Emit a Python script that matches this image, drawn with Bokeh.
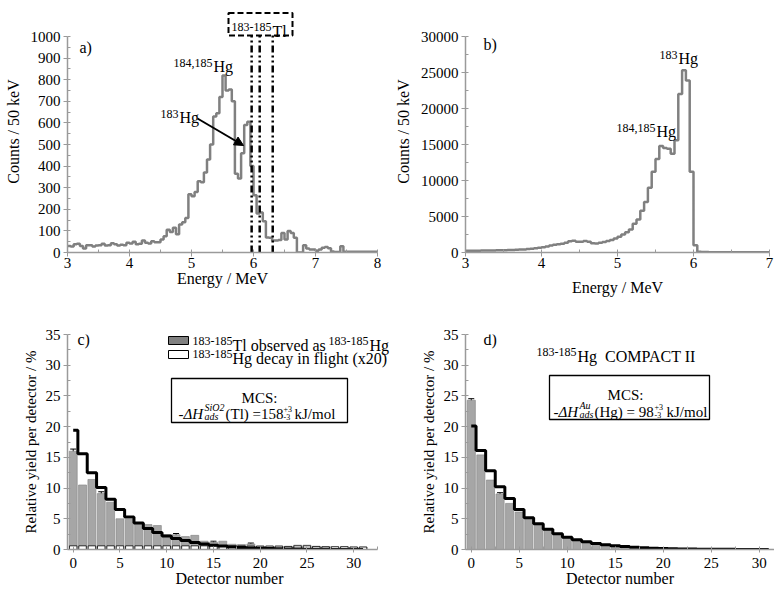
import numpy as np
from bokeh.plotting import figure
from bokeh.layouts import column, row
from bokeh.models import (Range1d, Label, Arrow, NormalHead, PolyAnnotation,
                          SingleIntervalTicker, ColumnDataSource, Whisker, TeeHead)
from bokeh.embed import file_html
from bokeh.resources import INLINE

FONT = "Liberation Serif"

# ---------------- data ----------------
# panel a: alpha spectrum (50 keV bins starting at 3.00 MeV)
energy_a_start = 3.0
bin_width = 0.05
counts_a = [30, 28, 38, 40, 30, 18, 33, 33, 28, 32,
            34, 40, 32, 34, 43, 38, 32, 36, 34, 45,
            42, 50, 38, 40, 55, 45, 42, 52, 48, 48,
            60, 75, 105, 95, 115, 85, 130, 140, 160, 270,
            260, 280, 330, 325, 370, 430, 500, 630, 645, 720,
            820, 750, 755, 700, 365, 343, 460, 590, 605, 400,
            265, 180, 185, 145, 70, 68, 56, 55, 58, 90,
            60, 100, 90, 68, 0, 0, 34, 18, 14, 14,
            8, 14, 22, 26, 20, 5, 2, 2, 29, 3,
            3, 3, 3, 3, 3, 3, 3, 3, 3, 3]
tl_lines = [5.97, 6.10, 6.31]

# panel b: alpha spectrum (50 keV bins starting at 3.00 MeV)
energy_b_start = 3.0
counts_b = [250, 250, 255, 260, 265, 270, 280, 290, 300, 305,
            320, 335, 350, 370, 400, 430, 470, 520, 580, 650,
            730, 850, 980, 1080, 1150, 1200, 1350, 1550, 1620, 1480,
            1500, 1600, 1500, 1300, 1250, 1350, 1450, 1600, 1750, 1950,
            2200, 2500, 2800, 3200, 4000, 4600, 5800, 7000, 9000, 11200,
            13000, 14800, 14500, 14400, 13700, 15600, 22000, 25300, 23900, 11200,
            1000, 100, 60, 55, 50, 50, 45, 50, 50, 45,
            50, 50, 45, 50, 50, 45, 50, 50, 45, 50]

# panels c, d: detector distributions
detectors = list(range(32))
c_observed = [16.0, 10.5, 11.4, 9.1, 7.7, 5.0, 4.9, 4.3, 4.05, 3.9,
              2.4, 2.4, 2.1, 2.3, 1.35, 1.2, 1.35, 0.85, 0.8, 0.9,
              0.55, 0.55, 0.55, 0.5, 0.7, 0.7, 0.5, 0.45, 0.4, 0.45, 0.4, 0.4]
c_flight = [0.6, 0.6, 0.6, 0.6, 0.6, 0.6, 0.6, 0.6, 0.6, 0.6,
            0.6, 0.6, 0.6, 0.6, 0.6, 0.6, 0.6, 0.6, 0.6, 0.55,
            0.55, 0.55, 0.55, 0.5, 0.6, 0.6, 0.5, 0.45, 0.45, 0.45, 0.4, 0.4]
c_mcs = [19.4, 15.6, 12.5, 10.1, 8.2, 6.5, 5.3, 4.3, 3.4, 2.75,
         2.2, 1.8, 1.45, 1.15, 0.9, 0.7, 0.55, 0.42, 0.32, 0.25,
         0.19, 0.15, 0.11, 0.09, 0.07, 0.05, 0.04, 0.03, 0.02, 0.02, 0.01, 0.01]
c_err_det = [0, 3, 11, 15, 19]
c_err = [0.35, 0.3, 0.2, 0.15, 0.15]

d_observed = [24.3, 15.4, 11.3, 9.05, 7.5, 6.1, 4.9, 3.95, 3.15, 2.45,
              1.9, 1.45, 1.1, 0.85, 0.65, 0.5, 0.38, 0.28, 0.2, 0.15,
              0.11, 0.08, 0.06, 0.05, 0.04, 0.03, 0.02, 0.02, 0.01, 0.01, 0.01, 0.01]
d_mcs = [20.1, 16.1, 12.8, 10.2, 8.3, 6.5, 5.15, 4.2, 3.3, 2.55,
         2.0, 1.6, 1.25, 0.98, 0.78, 0.6, 0.47, 0.37, 0.28, 0.22,
         0.17, 0.13, 0.1, 0.08, 0.06, 0.05, 0.04, 0.03, 0.02, 0.02, 0.01, 0.01]
d_err_det = [0, 3]
d_err = [0.25, 0.2]

# ---------------- geometry (page pixels) ----------------
# each figure: canvas origin (ox, oy), canvas size (w, h), frame box L..R, T..B
GA = dict(ox=0, oy=0, w=390, h=300, L=67, R=377, T=10, B=252,
          x0=3.0, x1=8.0, y0=0, y1=1000 * 242 / 216)
GB = dict(ox=390, oy=0, w=384, h=300, L=465, R=769, T=10, B=252,
          x0=3.0, x1=7.0, y0=0, y1=30000 * 242 / 216)
# panel c frame is widened to the right (axis drawn only to 32.55) so the legend fits
GC = dict(ox=0, oy=300, w=392, h=291, L=67, R=391, T=334, B=549,
          x0=-0.61, x1=-0.61 + 324 / 9.35, y0=0, y1=35)
GD = dict(ox=392, oy=300, w=382, h=291, L=465, R=774, T=334, B=549,
          x0=-0.6, x1=31.6, y0=0, y1=35)


def gx(g, px):
    return g["x0"] + (px - g["L"]) / (g["R"] - g["L"]) * (g["x1"] - g["x0"])


def gy(g, py):
    return g["y0"] + (g["B"] - py) / (g["B"] - g["T"]) * (g["y1"] - g["y0"])


def make_fig(g, xint, yint, xlabel, ylabel, ylab_standoff, xlab_standoff,
             xtick_out=4, xlabel_standoff=1, ylab_size="16px"):
    p = figure(width=g["w"], height=g["h"],
               x_range=Range1d(g["x0"], g["x1"]), y_range=Range1d(g["y0"], g["y1"]),
               output_backend="svg", toolbar_location=None,
               min_border_left=g["L"] - g["ox"], min_border_right=g["ox"] + g["w"] - g["R"],
               min_border_top=g["T"] - g["oy"], min_border_bottom=g["oy"] + g["h"] - g["B"])
    p.xgrid.visible = False
    p.ygrid.visible = False
    p.outline_line_color = None
    p.background_fill_color = "white"
    p.xaxis.ticker = SingleIntervalTicker(interval=xint, num_minor_ticks=2)
    p.yaxis.ticker = SingleIntervalTicker(interval=yint, num_minor_ticks=2)
    for ax in (p.xaxis[0], p.yaxis[0]):
        ax.axis_line_color = "#9a9a9a"
        ax.axis_line_width = 1.5
        ax.major_tick_line_color = "#9a9a9a"
        ax.minor_tick_line_color = "#9a9a9a"
        ax.major_tick_in = 0
        ax.minor_tick_in = 3
        ax.minor_tick_out = 0
        ax.major_label_text_font = FONT
        ax.major_label_text_font_size = "15px"
        ax.major_label_text_color = "black"
        ax.axis_label_text_font = FONT
        ax.axis_label_text_font_style = "normal"
        ax.axis_label_text_color = "black"
    p.yaxis[0].major_tick_out = 4
    p.xaxis[0].major_tick_out = xtick_out
    p.xaxis[0].major_label_standoff = xlabel_standoff
    p.yaxis[0].major_label_standoff = 3
    p.xaxis[0].axis_label = xlabel
    p.yaxis[0].axis_label = ylabel
    p.xaxis[0].axis_label_text_font_size = "16px"
    p.yaxis[0].axis_label_text_font_size = ylab_size
    p.yaxis[0].axis_label_standoff = ylab_standoff
    p.xaxis[0].axis_label_standoff = xlab_standoff
    return p


def txt(p, g, px, py, text, size=16, align="left", baseline="alphabetic", style="normal"):
    p.add_layout(Label(x=gx(g, px), y=gy(g, py), text=text, text_font=FONT,
                       text_font_size=f"{size}px", text_align=align,
                       text_baseline=baseline, text_font_style=style, text_color="black"))


def rect_ann(p, g, l, r, t, b, fill, line, width=1.0, dash="solid"):
    xs = [gx(g, l), gx(g, r), gx(g, r), gx(g, l)]
    ys = [gy(g, t), gy(g, t), gy(g, b), gy(g, b)]
    p.add_layout(PolyAnnotation(xs=xs, ys=ys, fill_color=fill if fill else "white",
                                fill_alpha=1.0 if fill else 0.0,
                                line_color=line, line_alpha=1.0, line_width=width, line_dash=dash))


# ---------------- panel a ----------------
pa = make_fig(GA, 1, 100, "Energy / MeV", "Counts / 50 keV", 6, -1)
pa.yaxis[0].bounds = (0, 1000)
edges_a = energy_a_start + bin_width * np.arange(len(counts_a) + 1)
pa.step(edges_a, list(counts_a) + [counts_a[-1]], mode="after", line_color="#808080", line_width=2.5)
box_bottom = gy(GA, 35)
tl_src = ColumnDataSource(dict(x=tl_lines, y0=[0] * len(tl_lines), y1=[box_bottom] * len(tl_lines)))
pa.segment(x0="x", y0="y0", x1="x", y1="y1", source=tl_src, line_color="black",
           line_width=2.5, line_dash="7 3 2 3 2 3")
rect_ann(pa, GA, 228, 292, 12.5, 35, None, "black", 2, "6 3")
txt(pa, GA, 271, 26, "183-185", 12, align="right")
txt(pa, GA, 272, 31, "Tl", 16)
txt(pa, GA, 79, 47, "a)", 16, baseline="middle")
txt(pa, GA, 212, 62, "184,185", 12, align="right")
txt(pa, GA, 213, 66, "Hg", 16)
txt(pa, GA, 178, 113, "183", 12, align="right")
txt(pa, GA, 179, 117, "Hg", 16)
pa.add_layout(Arrow(end=NormalHead(size=9, fill_color="black", line_color="black"),
                    x_start=gx(GA, 197), y_start=gy(GA, 118), x_end=gx(GA, 243), y_end=gy(GA, 145),
                    line_color="black", line_width=2))

# ---------------- panel b ----------------
pb = make_fig(GB, 1, 5000, "Energy / MeV", "Counts / 50 keV", 6, 8)
pb.yaxis[0].bounds = (0, 30000)
edges_b = energy_b_start + bin_width * np.arange(len(counts_b) + 1)
pb.step(edges_b, list(counts_b) + [counts_b[-1]], mode="after", line_color="#808080", line_width=2.5)
txt(pb, GB, 483, 44, "b)", 16, baseline="middle")
txt(pb, GB, 677, 54, "183", 12, align="right")
txt(pb, GB, 678, 58, "Hg", 16)
txt(pb, GB, 655, 127, "184,185", 12, align="right")
txt(pb, GB, 656, 131, "Hg", 16)

# ---------------- panel c ----------------
pc = make_fig(GC, 5, 5, "Detector number", "Relative yield per detector / %", 4, -1,
              xtick_out=3, xlabel_standoff=5, ylab_size="15px")
pc.xaxis[0].bounds = (GC["x0"], 32.55)
src_c = ColumnDataSource(dict(det=detectors, obs=c_observed, fl=c_flight))
pc.vbar(x="det", top="obs", width=0.85, source=src_c, fill_color="#a6a6a6",
        line_color="#8a8a8a", line_width=0.7)
pc.vbar(x="det", top="fl", width=0.8, source=src_c, fill_color="white",
        line_color="black", line_width=0.8)
pc.step(detectors, c_mcs, mode="center", line_color="black", line_width=3)
err_c = ColumnDataSource(dict(x=c_err_det,
                              upper=[c_observed[i] + e for i, e in zip(c_err_det, c_err)],
                              lower=[c_observed[i] - e for i, e in zip(c_err_det, c_err)]))
pc.add_layout(Whisker(source=err_c, base="x", upper="upper", lower="lower", line_color="black",
                      upper_head=TeeHead(size=6, line_color="black"),
                      lower_head=TeeHead(size=6, line_color="black")))
txt(pc, GC, 77, 339, "c)", 16, baseline="middle")
rect_ann(pc, GC, 168, 188, 336, 344, "#808080", "black", 1)
txt(pc, GC, 192, 340, "183-185", 12)
txt(pc, GC, 232, 345, "Tl observed as", 16)
txt(pc, GC, 368, 340, "183-185", 12, align="right")
txt(pc, GC, 369, 345, "Hg", 16)
rect_ann(pc, GC, 168, 188, 350, 358, "white", "black", 1)
txt(pc, GC, 192, 353, "183-185", 12)
txt(pc, GC, 232, 358, "Hg decay in flight (x20)", 16)
rect_ann(pc, GC, 171, 347, 378, 422, "white", "black", 1.3)
txt(pc, GC, 259, 397, "MCS:", 15, align="center")
txt(pc, GC, 178, 413, "-", 15)
txt(pc, GC, 183, 413, "\u0394H", 15, style="italic")
txt(pc, GC, 204, 407, "SiO2", 10, style="italic")
txt(pc, GC, 204, 416, "ads", 10, style="italic")
txt(pc, GC, 225, 413, "(Tl) =158", 15)
txt(pc, GC, 283, 408, "+3", 8)
txt(pc, GC, 283, 416, "-3", 8)
txt(pc, GC, 294, 413, "kJ/mol", 15)

# ---------------- panel d ----------------
pd_ = make_fig(GD, 5, 5, "Detector number", "Relative yield per detector / %", 4, -1,
               xtick_out=3, xlabel_standoff=5, ylab_size="15px")
src_d = ColumnDataSource(dict(det=detectors, obs=d_observed))
pd_.vbar(x="det", top="obs", width=0.85, source=src_d, fill_color="#a6a6a6",
         line_color="#8a8a8a", line_width=0.7)
pd_.step(detectors, d_mcs, mode="center", line_color="black", line_width=3)
err_d = ColumnDataSource(dict(x=d_err_det,
                              upper=[d_observed[i] + e for i, e in zip(d_err_det, d_err)],
                              lower=[d_observed[i] - e for i, e in zip(d_err_det, d_err)]))
pd_.add_layout(Whisker(source=err_d, base="x", upper="upper", lower="lower", line_color="black",
                       upper_head=TeeHead(size=6, line_color="black"),
                       lower_head=TeeHead(size=6, line_color="black")))
txt(pd_, GD, 483, 339, "d)", 16, baseline="middle")
txt(pd_, GD, 576, 351, "183-185", 12, align="right")
txt(pd_, GD, 577, 356, "Hg\u00a0\u00a0COMPACT II", 16)
rect_ann(pd_, GD, 549, 709, 375, 419, "white", "black", 1.3)
txt(pd_, GD, 625, 394, "MCS:", 15, align="center")
txt(pd_, GD, 553, 411, "-", 15)
txt(pd_, GD, 558, 411, "\u0394H", 15, style="italic")
txt(pd_, GD, 579, 405, "Au", 10, style="italic")
txt(pd_, GD, 579, 414, "ads", 10, style="italic")
txt(pd_, GD, 594, 411, "(Hg) = 98", 15)
txt(pd_, GD, 654, 406, "+3", 8)
txt(pd_, GD, 654, 414, "-3", 8)
txt(pd_, GD, 666, 411, "kJ/mol", 15)

layout = column(row(pa, pb), row(pc, pd_))
open("out.html", "w").write(file_html(layout, INLINE, title="chart"))
